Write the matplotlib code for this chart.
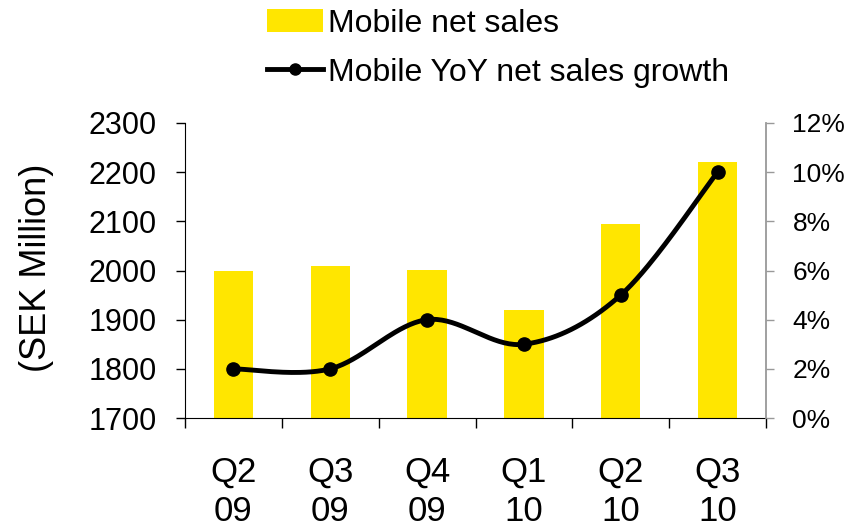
import numpy as np
import matplotlib
matplotlib.use("Agg")
import matplotlib.pyplot as plt
from matplotlib.patches import Patch
from matplotlib.lines import Line2D

plt.rcParams['font.family'] = ['Liberation Sans', 'DejaVu Sans']

quarters = ["Q2\n09", "Q3\n09", "Q4\n09", "Q1\n10", "Q2\n10", "Q3\n10"]
net_sales = [2000, 2010, 2002, 1920, 2095, 2220]
yoy_growth = [2, 2, 4, 3, 5, 10]
left_ticks = [1700, 1800, 1900, 2000, 2100, 2200, 2300]
right_ticks = [0, 2, 4, 6, 8, 10, 12]

BAR_COLOR = "#FFE600"
GREY = "#999999"


def smooth_curve(xs, ys, n=40):
    """Bezier smoothing through points (Catmull-Rom style)."""
    xs = np.asarray(xs, float)
    ys = np.asarray(ys, float)
    px, py = [], []
    m = len(xs)
    for i in range(m - 1):
        p0 = (xs[max(i - 1, 0)], ys[max(i - 1, 0)])
        p1 = (xs[i], ys[i])
        p2 = (xs[i + 1], ys[i + 1])
        p3 = (xs[min(i + 2, m - 1)], ys[min(i + 2, m - 1)])
        c1 = (p1[0] + (p2[0] - p0[0]) / 6, p1[1] + (p2[1] - p0[1]) / 6)
        c2 = (p2[0] - (p3[0] - p1[0]) / 6, p2[1] - (p3[1] - p1[1]) / 6)
        t = np.linspace(0, 1, n)
        bx = ((1 - t) ** 3 * p1[0] + 3 * (1 - t) ** 2 * t * c1[0]
              + 3 * (1 - t) * t ** 2 * c2[0] + t ** 3 * p2[0])
        by = ((1 - t) ** 3 * p1[1] + 3 * (1 - t) ** 2 * t * c1[1]
              + 3 * (1 - t) * t ** 2 * c2[1] + t ** 3 * p2[1])
        px.extend(bx)
        py.extend(by)
    return np.array(px), np.array(py)


fig = plt.figure(figsize=(8.52, 5.31), dpi=100)
ax = fig.add_axes([185 / 852, 1 - 418 / 531, (766 - 185) / 852, (418 - 123) / 531])
ax2 = ax.twinx()

x = np.arange(len(quarters))
ax.bar(x, np.array(net_sales) - 1700, bottom=1700, width=0.405, color=BAR_COLOR, zorder=2)
ax.set_ylim(1700, 2300)
ax.set_xlim(-0.5, len(quarters) - 0.5)
ax.set_yticks(left_ticks)
ax.set_yticklabels([str(v) for v in left_ticks], fontsize=22)
ax.set_ylabel("(SEK Million)", fontsize=26)
ax.yaxis.set_label_coords(-0.226, 0.51)

ax.set_xticks(np.arange(-0.5, len(quarters), 1.0))
ax.set_xticklabels([])
ax.set_xticks(x, minor=True)
ax.set_xticklabels(quarters, minor=True, fontsize=25, linespacing=1.25)
ax.tick_params(axis='x', which='minor', length=0, pad=27)
ax.tick_params(axis='x', which='major', length=7, width=1, direction='out')
ax.tick_params(axis='y', length=6.5, width=1, direction='out', pad=14)

ax.spines['top'].set_visible(False)
ax.spines['right'].set_visible(False)

sx, sy = smooth_curve(x, yoy_growth)
ax2.plot(sx, sy, color='black', lw=3.5, zorder=3, solid_capstyle='round')
ax2.plot(x, yoy_growth, 'o', color='black', ms=9.5, zorder=4)
ax2.set_ylim(0, 12)
ax2.set_yticks(right_ticks)
ax2.set_yticklabels([f"{v}%" for v in right_ticks], fontsize=19)
ax2.tick_params(axis='y', length=6, width=1, color=GREY, direction='out', pad=13)
for side in ['top', 'left', 'bottom']:
    ax2.spines[side].set_visible(False)
ax2.spines['right'].set_color(GREY)
ax2.spines['right'].set_linewidth(1.3)

handles = [Patch(facecolor=BAR_COLOR, edgecolor='none', label="Mobile net sales"),
           Line2D([0], [0], color='black', lw=3.5, marker='o', ms=8,
                  label="Mobile YoY net sales growth")]
fig.legend(handles=handles, loc='upper left', bbox_to_anchor=(264 / 852, 0.99),
           frameon=False, fontsize=23, handlelength=1.75, handletextpad=0.15,
           labelspacing=0.6, borderaxespad=0.0, borderpad=0.1)

fig.savefig("out.png", dpi=100)
